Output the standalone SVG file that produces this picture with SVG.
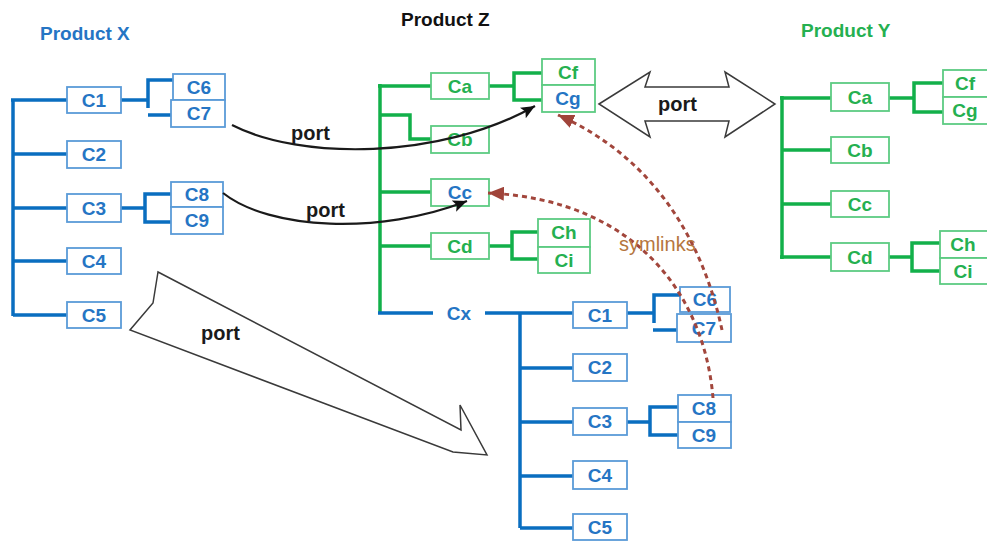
<svg xmlns="http://www.w3.org/2000/svg" width="987" height="541" viewBox="0 0 987 541">
  <style>
    text { font-family: "Liberation Sans", Arial, sans-serif; font-weight: bold; }
    .lbl { font-size: 19px; text-anchor: middle; }
    .title { font-size: 19px; }
    .bx { fill: #ffffff; stroke: #5a9bd8; stroke-width: 1.8; }
    .gx { fill: #ffffff; stroke: #5ccb82; stroke-width: 1.8; }
    .bt { fill: #2575c4; }
    .gt { fill: #25b050; }
    .bl { fill: none; stroke: #0a6ec0; stroke-width: 3.5; }
    .gl { fill: none; stroke: #12b04a; stroke-width: 3.5; }
    .port { font-size: 20px; fill: #1a1a1a; }
    .hollow { fill: #ffffff; stroke: #3a3a3a; stroke-width: 1.5; stroke-linejoin: miter; }
    .curve { fill: none; stroke: #1a1a1a; stroke-width: 2.2; }
    .sym { fill: none; stroke: #a2463c; stroke-width: 3; stroke-dasharray: 5 4; }
  </style>
  <defs>
    <marker id="blackHead" markerWidth="16" markerHeight="14" refX="14" refY="6" orient="auto" markerUnits="userSpaceOnUse">
      <path d="M0,0 L14,6 L0,12 L3,6 z" fill="#111111"/>
    </marker>
    <marker id="brownHead" markerWidth="18" markerHeight="14" refX="16" refY="7" orient="auto" markerUnits="userSpaceOnUse">
      <path d="M0,0 L16,7 L0,14 z" fill="#a0443a"/>
    </marker>
  </defs>

  <rect width="987" height="541" fill="#ffffff"/>

  <!-- product titles -->
  <text class="title" x="40" y="40" fill="#2575c4">Product X</text>
  <text class="title" x="401" y="26" fill="#111111">Product Z</text>
  <text class="title" x="801" y="37" fill="#25b050">Product Y</text>

  <!-- tree links -->
  <g id="tree-links">
    <!-- Product X -->
    <path class="bl" d="M13,99 V316"/>
    <path class="bl" d="M11,100 H67 M13,154 H67 M13,208 H67 M13,261 H67 M13,315 H67"/>
    <path class="bl" d="M121,100 H148 M148,108 V80 H173 M148,115 H171"/>
    <path class="bl" d="M121,208 H145 M171,194 H145 V222 H171"/>

    <!-- Product Z -->
    <path class="gl" d="M380,84 V313"/>
    <path class="gl" d="M378,86 H431 M380,115 H410 V139 H431 M380,192 H431 M380,246 H431"/>
    <path class="gl" d="M489,86 H514 M542,73 H514 V100 H542"/>
    <path class="gl" d="M489,246 H512 M538,232 H512 V259 H538"/>
    <path class="bl" d="M378,313 H433 M485,313 H573"/>

    <!-- Cx subtree -->
    <path class="bl" d="M520,313 V528"/>
    <path class="bl" d="M520,368 H573 M520,422 H573 M520,476 H573 M520,528 H573"/>
    <path class="bl" d="M627,313 H654 M654,323 V295 H680 M653,330 H677"/>
    <path class="bl" d="M627,422 H650 M678,407 H650 V435 H678"/>

    <!-- Product Y -->
    <path class="gl" d="M782,96 V259"/>
    <path class="gl" d="M780,98 H831 M782,150 H831 M782,204 H831 M780,257 H831"/>
    <path class="gl" d="M889,98 H914 M943,83 H914 V112 H943"/>
    <path class="gl" d="M889,257 H912 M940,243 H912 V271 H940"/>
  </g>

  <!-- Product X nodes -->
  <g id="x-c1"><rect class="bx" x="67" y="87" width="54" height="26"/><text class="lbl bt" x="94" y="107">C1</text></g>
  <g id="x-c2"><rect class="bx" x="67" y="141" width="54" height="27"/><text class="lbl bt" x="94" y="161">C2</text></g>
  <g id="x-c3"><rect class="bx" x="67" y="194" width="54" height="28"/><text class="lbl bt" x="94" y="215">C3</text></g>
  <g id="x-c4"><rect class="bx" x="67" y="248" width="54" height="26"/><text class="lbl bt" x="94" y="268">C4</text></g>
  <g id="x-c5"><rect class="bx" x="67" y="302" width="54" height="26"/><text class="lbl bt" x="94" y="322">C5</text></g>
  <g id="x-c6"><rect class="bx" x="173" y="74" width="52" height="26"/><text class="lbl bt" x="199" y="94">C6</text></g>
  <g id="x-c7"><rect class="bx" x="171" y="100" width="54" height="27"/><text class="lbl bt" x="199" y="120">C7</text></g>
  <g id="x-c8"><rect class="bx" x="171" y="182" width="52" height="25"/><text class="lbl bt" x="197" y="201">C8</text></g>
  <g id="x-c9"><rect class="bx" x="171" y="207" width="52" height="27"/><text class="lbl bt" x="197" y="227">C9</text></g>

  <!-- Product Z nodes -->
  <g id="z-ca"><rect class="gx" x="431" y="73" width="58" height="26"/><text class="lbl gt" x="460" y="93">Ca</text></g>
  <g id="z-cb"><rect class="gx" x="431" y="126" width="58" height="27"/><text class="lbl gt" x="460" y="146">Cb</text></g>
  <g id="z-cc"><rect class="gx" x="431" y="179" width="58" height="27"/><text class="lbl bt" x="460" y="199">Cc</text></g>
  <g id="z-cd"><rect class="gx" x="431" y="233" width="58" height="26"/><text class="lbl gt" x="460" y="253">Cd</text></g>
  <g id="z-cf"><rect class="gx" x="542" y="59" width="53" height="26"/><text class="lbl gt" x="568" y="79">Cf</text></g>
  <g id="z-cg"><rect class="gx" x="542" y="85" width="53" height="27"/><text class="lbl bt" x="568" y="105">Cg</text></g>
  <g id="z-ch"><rect class="gx" x="538" y="219" width="52" height="28"/><text class="lbl gt" x="564" y="239">Ch</text></g>
  <g id="z-ci"><rect class="gx" x="538" y="247" width="52" height="26"/><text class="lbl gt" x="564" y="267">Ci</text></g>
  <g id="z-cx"><text class="lbl bt" x="459" y="320">Cx</text></g>

  <!-- Cx subtree nodes -->
  <g id="cx-c1"><rect class="bx" x="573" y="302" width="54" height="26"/><text class="lbl bt" x="600" y="322">C1</text></g>
  <g id="cx-c2"><rect class="bx" x="573" y="354" width="54" height="27"/><text class="lbl bt" x="600" y="374">C2</text></g>
  <g id="cx-c3"><rect class="bx" x="573" y="408" width="54" height="27"/><text class="lbl bt" x="600" y="428">C3</text></g>
  <g id="cx-c4"><rect class="bx" x="573" y="461" width="54" height="28"/><text class="lbl bt" x="600" y="482">C4</text></g>
  <g id="cx-c5"><rect class="bx" x="573" y="514" width="54" height="26"/><text class="lbl bt" x="600" y="534">C5</text></g>
  <g id="cx-c6"><rect class="bx" x="680" y="287" width="50" height="25"/><text class="lbl bt" x="705" y="306">C6</text></g>
  <g id="cx-c7"><rect class="bx" x="677" y="314" width="54" height="28"/><text class="lbl bt" x="704" y="335">C7</text></g>
  <g id="cx-c8"><rect class="bx" x="678" y="395" width="53" height="27"/><text class="lbl bt" x="704" y="415">C8</text></g>
  <g id="cx-c9"><rect class="bx" x="678" y="422" width="53" height="26"/><text class="lbl bt" x="704" y="442">C9</text></g>

  <!-- Product Y nodes -->
  <g id="y-ca"><rect class="gx" x="831" y="83" width="58" height="28"/><text class="lbl gt" x="860" y="104">Ca</text></g>
  <g id="y-cb"><rect class="gx" x="831" y="137" width="58" height="26"/><text class="lbl gt" x="860" y="157">Cb</text></g>
  <g id="y-cc"><rect class="gx" x="831" y="191" width="58" height="26"/><text class="lbl gt" x="860" y="211">Cc</text></g>
  <g id="y-cd"><rect class="gx" x="831" y="243" width="58" height="28"/><text class="lbl gt" x="860" y="264">Cd</text></g>
  <g id="y-cf"><rect class="gx" x="943" y="70" width="50" height="27"/><text class="lbl gt" x="965" y="90">Cf</text></g>
  <g id="y-cg"><rect class="gx" x="943" y="97" width="50" height="27"/><text class="lbl gt" x="965" y="117">Cg</text></g>
  <g id="y-ch"><rect class="gx" x="940" y="231" width="50" height="27"/><text class="lbl gt" x="963" y="251">Ch</text></g>
  <g id="y-ci"><rect class="gx" x="940" y="258" width="50" height="26"/><text class="lbl gt" x="963" y="278">Ci</text></g>

  <!-- cross-product links, drawn over the nodes -->
  <g id="cross-links">
    <!-- port curves -->
    <path class="curve" d="M232,125 C300,160 440,160 535,106" marker-end="url(#blackHead)"/>
    <path class="curve" d="M223,193 C270,230 380,235 467,201" marker-end="url(#blackHead)"/>

    <!-- symlinks -->
    <path class="sym" d="M722,330 C705,250 660,160 558,115" marker-end="url(#brownHead)"/>
    <path class="sym" d="M713,398 C705,300 640,200 488,193" marker-end="url(#brownHead)"/>

    <!-- hollow block arrows -->
    <polygon class="hollow" points="599,104 650,72 645,87 729,87 725,72 775,104 725,137 729,121 645,121 650,137"/>
    <polygon class="hollow" points="158,272 153,303 130,330 453,452 487,455 460,405 461,430"/>

    <!-- labels -->
    <text class="port" x="291" y="140">port</text>
    <text class="port" x="306" y="217">port</text>
    <text class="port" x="201" y="340">port</text>
    <text class="port" x="658" y="111">port</text>
    <text x="619" y="251" style="font-size:20px;font-weight:normal;fill:#b5763e">symlinks</text>
  </g>
</svg>
